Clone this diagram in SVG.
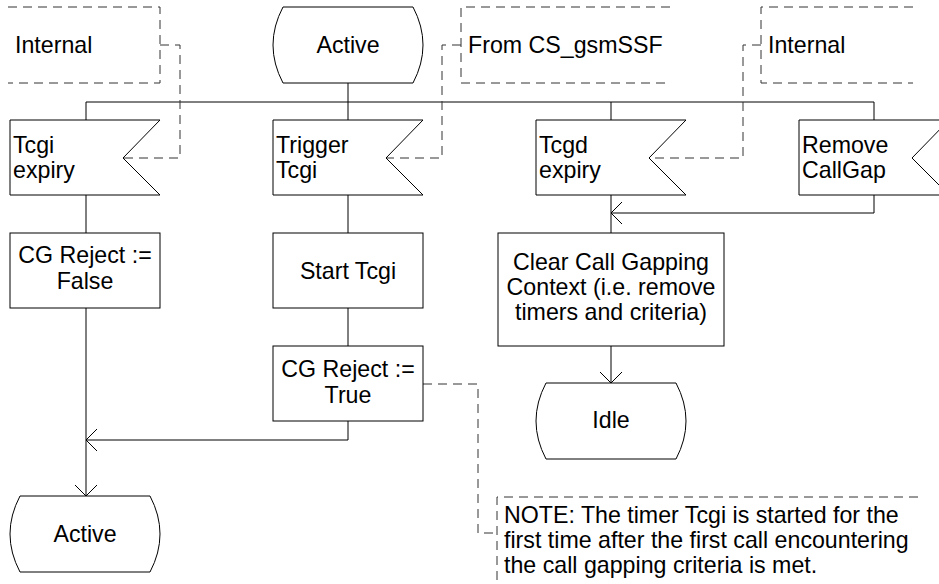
<svg xmlns="http://www.w3.org/2000/svg" width="939" height="584" viewBox="0 0 939 584">
<defs>
<style>
.s{fill:#fff;stroke:#000;stroke-width:1}
.l{fill:none;stroke:#000;stroke-width:1}
.d{fill:none;stroke:#333;stroke-width:1;stroke-dasharray:9 6}
text{font-family:"Liberation Sans",Arial,sans-serif;font-size:23.2px;fill:#000}
.c{text-anchor:middle}
</style>
<marker id="a" markerWidth="14" markerHeight="24" refX="12" refY="12" orient="auto" markerUnits="userSpaceOnUse">
<path d="M1,1 L12,12 L1,23" fill="none" stroke="#000" stroke-width="1"/>
</marker>
</defs>
<rect width="939" height="584" fill="#fff"/>
<g id="connectors">
<path class="l" d="M348,83 V102 M86,102 H874 M86,102 V120 M348,102 V120 M611,102 V120 M874,102 V120"/>
<path class="l" d="M86,195 V233 M348,195 V233 M348,308 V346 M611,195 V233"/>
<path class="l" d="M86,308 V496" marker-end="url(#a)"/>
<path class="l" d="M348,421 V440 H86" marker-end="url(#a)"/>
<path class="l" d="M874,195 V213 H611" marker-end="url(#a)"/>
<path class="l" d="M611,346 V383" marker-end="url(#a)"/>
<path class="d" d="M160,45 H180 V158 H123"/>
<path class="d" d="M461,45 H442 V158 H386"/>
<path class="d" d="M761,45 H743 V158 H649"/>
<path class="d" d="M423,384 H478 V533 H497"/>
</g>
<g id="comment_internal_left">
<path class="d" d="M8,7 H160 V83 H8"/>
<text x="15" y="53">Internal</text>
</g>
<g id="comment_from_cs">
<path class="d" d="M670,7 H461 V83 H670"/>
<text x="468" y="53">From CS_gsmSSF</text>
</g>
<g id="comment_internal_right">
<path class="d" d="M913,7 H761 V83 H913"/>
<text x="768" y="53">Internal</text>
</g>
<g id="state_active_top">
<path class="s" d="M283,7 H413 Q433,45 413,83 H283 Q263,45 283,7 Z"/>
<text class="c" x="348" y="53">Active</text>
</g>
<g id="input_tcgi_expiry">
<path class="s" d="M10,120 H160 L123,158 L160,195 H10 Z"/>
<text x="13" y="153">Tcgi</text>
<text x="13" y="178">expiry</text>
</g>
<g id="input_trigger_tcgi">
<path class="s" d="M273,120 H423 L386,158 L423,195 H273 Z"/>
<text x="276" y="153">Trigger</text>
<text x="276" y="178">Tcgi</text>
</g>
<g id="input_tcgd_expiry">
<path class="s" d="M536,120 H686 L649,158 L686,195 H536 Z"/>
<text x="539" y="153">Tcgd</text>
<text x="539" y="178">expiry</text>
</g>
<g id="input_remove_callgap">
<path class="s" d="M799,120 H949 L912,158 L949,195 H799 Z"/>
<text x="802" y="153">Remove</text>
<text x="802" y="178">CallGap</text>
</g>
<g id="task_cg_false">
<rect class="s" x="10" y="233" width="150" height="75"/>
<text class="c" x="85" y="263">CG Reject :=</text>
<text class="c" x="85" y="289">False</text>
</g>
<g id="task_start_tcgi">
<rect class="s" x="273" y="233" width="150" height="75"/>
<text class="c" x="348" y="279">Start Tcgi</text>
</g>
<g id="task_cg_true">
<rect class="s" x="273" y="346" width="150" height="75"/>
<text class="c" x="348" y="377">CG Reject :=</text>
<text class="c" x="348" y="403">True</text>
</g>
<g id="task_clear">
<rect class="s" x="498" y="233" width="226" height="113"/>
<text class="c" x="611" y="270">Clear Call Gapping</text>
<text class="c" x="611" y="295">Context (i.e. remove</text>
<text class="c" x="611" y="320">timers and criteria)</text>
</g>
<g id="state_idle">
<path class="s" d="M546,383 H676 Q696,421 676,459 H546 Q526,421 546,383 Z"/>
<text class="c" x="611" y="428">Idle</text>
</g>
<g id="state_active_bottom">
<path class="s" d="M20,496 H150 Q170,534 150,572 H20 Q0,534 20,496 Z"/>
<text class="c" x="85" y="542">Active</text>
</g>
<g id="note">
<path class="d" d="M918,497 H497 V584"/>
<text x="504" y="523">NOTE: The timer Tcgi is started for the</text>
<text x="504" y="548">first time after the first call encountering</text>
<text x="504" y="573">the call gapping criteria is met.</text>
</g>
</svg>
